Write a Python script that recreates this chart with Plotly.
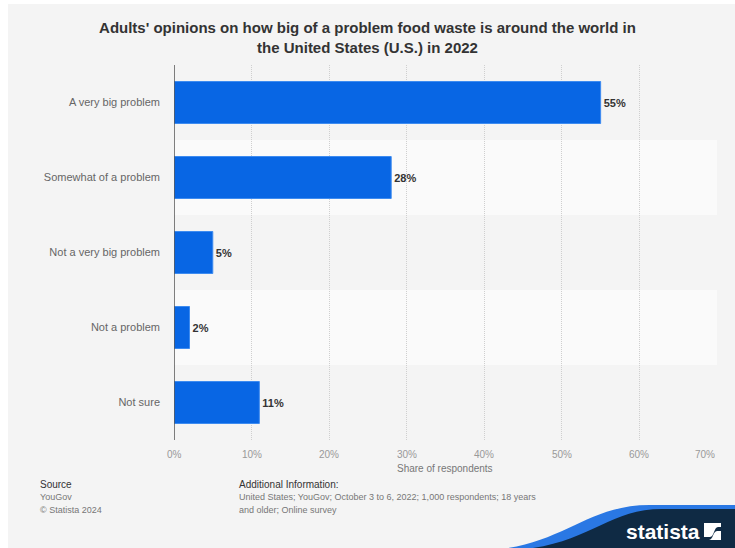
import plotly.graph_objects as go

categories = ["A very big problem", "Somewhat of a problem", "Not a very big problem", "Not a problem", "Not sure"]
values = [55, 28, 5, 2, 11]
x_ticks = [0, 10, 20, 30, 40, 50, 60, 70]
x_tick_labels = ["0%", "10%", "20%", "30%", "40%", "50%", "60%", "70%"]

W, H = 735, 548
L, R, T, B = 174, 717, 65, 440
FONT = "Liberation Sans, Arial, sans-serif"

def px(x):
    return (x - L) / (R - L)

def py(y):
    return (B - y) / (B - T)

fig = go.Figure()
fig.add_trace(go.Bar(
    x=values, y=categories, orientation="h",
    marker=dict(color="#0866e4", line=dict(color="#3d8bf0", width=1)),
    text=[f"{v}%" for v in values], textposition="outside",
    textfont=dict(family=FONT, size=11, color="#333333"),
    texttemplate="<b>%{text}</b>", cliponaxis=False, hoverinfo="skip",
))

shapes = []
# page background
shapes.append(dict(type="rect", xref="paper", yref="paper", x0=px(8), x1=px(736), y0=py(4), y1=py(549),
                   fillcolor="#f4f4f4", line=dict(width=0), layer="below"))
# alternating bands
for i, c in enumerate(categories):
    if i % 2 == 1:
        shapes.append(dict(type="rect", xref="x", yref="y", x0=0, x1=70, y0=i - 0.5, y1=i + 0.5,
                           fillcolor="#fafafa", line=dict(width=0), layer="below"))

def P(x, y):
    return f"{px(x)},{py(y)}"

# logo wave
blue = f"M {P(500,549)} C {P(565,542)} {P(590,504)} {P(652,505)} L {P(736,505)} L {P(736,549)} Z"
navy = f"M {P(525,549)} C {P(590,542)} {P(610,509)} {P(662,509)} L {P(736,509)} L {P(736,549)} Z"
shapes.append(dict(type="path", xref="paper", yref="paper", path=blue, fillcolor="#2a78e4", line=dict(width=0)))
shapes.append(dict(type="path", xref="paper", yref="paper", path=navy, fillcolor="#0f2a44", line=dict(width=0)))
# logo icon
shapes.append(dict(type="rect", xref="paper", yref="paper", x0=px(704), x1=px(721), y0=py(540), y1=py(523),
                   fillcolor="white", line=dict(width=0)))
icon = f"M {P(704,537)} L {P(710,537)} C {P(714,537)} {P(714,527)} {P(718,527)} L {P(721,527)} L {P(721,531)} L {P(717,531)} C {P(713,531)} {P(713,540)} {P(709,540)} L {P(704,540)} Z"
shapes.append(dict(type="path", xref="paper", yref="paper", path=icon, fillcolor="#0f2a44", line=dict(width=0)))

annotations = []
def note(x, y, text, size=10, color="#777777", anchor="left", bold=False):
    annotations.append(dict(xref="paper", yref="paper", x=px(x), y=py(y), text=(f"<b>{text}</b>" if bold else text),
                            showarrow=False, xanchor=anchor, yanchor="middle",
                            font=dict(family=FONT, size=size, color=color)))

note(38, 484, "Source", 10, "#333333")
note(38, 497, "YouGov", 9, "#777777")
note(38, 510, "© Statista 2024", 9, "#777777")
note(237, 484, "Additional Information:", 10, "#333333")
note(237, 497, "United States; YouGov; October 3 to 6, 2022; 1,000 respondents; 18 years", 9, "#777777")
note(237, 510, "and older; Online survey", 9, "#777777")
note(445, 469, "Share of respondents", 10, "#777777", anchor="center")
note(663, 531, "statista", 21, "#ffffff", anchor="center", bold=True)

# x tick labels as annotations (last one kept inside the chart)
for v, lab in zip(x_ticks, x_tick_labels):
    last = v == x_ticks[-1]
    annotations.append(dict(xref="x", yref="paper", x=v, y=py(454), text=lab, showarrow=False,
                            xanchor="right" if last else "center", yanchor="middle",
                            font=dict(family=FONT, size=10, color="#999999")))

fig.update_layout(
    width=W, height=H,
    margin=dict(l=L, r=W - R, t=T, b=H - B, pad=0),
    paper_bgcolor="white", plot_bgcolor="rgba(0,0,0,0)",
    bargap=0.44,
    showlegend=False,
    title=dict(text="<b>Adults' opinions on how big of a problem food waste is around the world in<br>the United States (U.S.) in 2022</b>",
               x=0.5, xref="container", xanchor="center", y=1 - 33 / H, yanchor="middle",
               font=dict(family=FONT, size=15, color="#333333")),
    shapes=shapes, annotations=annotations,
    xaxis=dict(range=[0, 70], tickvals=x_ticks, showticklabels=False,
               showgrid=True, gridcolor="#cfcfcf", griddash="1px,1px", gridwidth=1,
               zeroline=False, showline=False, ticks=""),
    yaxis=dict(autorange="reversed", showgrid=False, zeroline=False,
               showline=False, ticks="", ticklabelstandoff=13,
               tickfont=dict(family=FONT, size=11, color="#666666")),
)
# y-axis line
fig.add_shape(type="line", xref="x", yref="paper", x0=0, x1=0, y0=0, y1=1,
              line=dict(color="#555555", width=1.5))

fig.write_html("out.html")
